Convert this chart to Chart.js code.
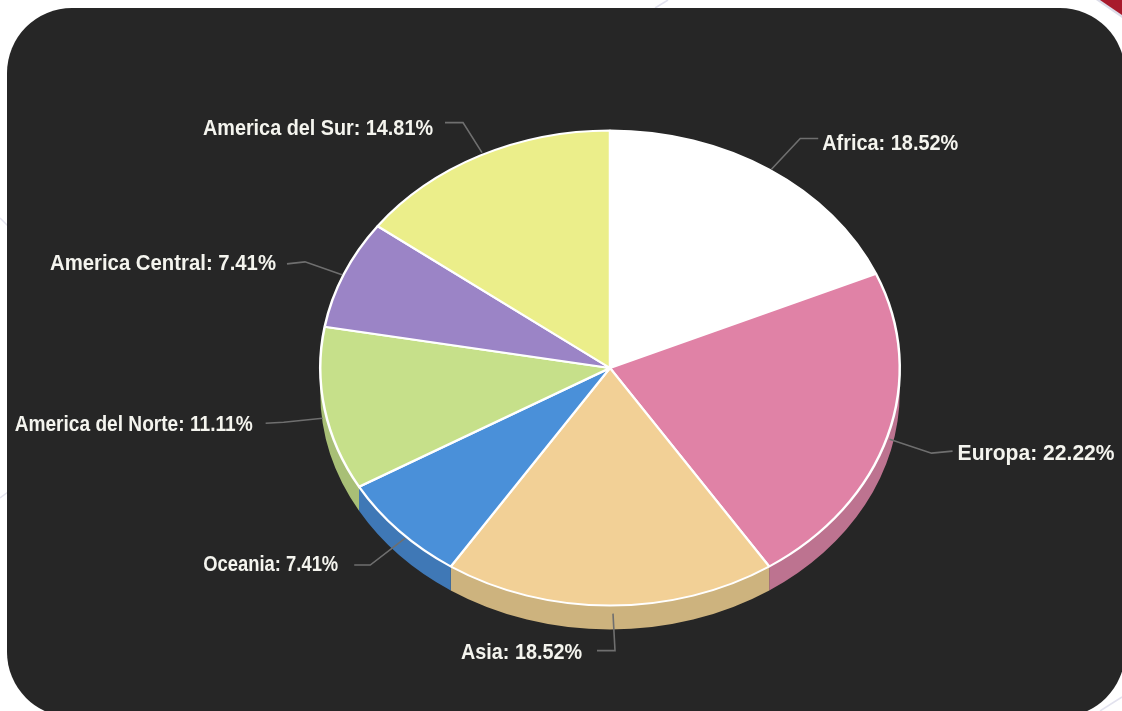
<!DOCTYPE html>
<html><head><meta charset="utf-8">
<style>html,body{margin:0;padding:0;background:#fff;overflow:hidden}#wrap{width:1122px;height:711px;position:relative}</style>
<script src="https://cdn.jsdelivr.net/npm/chart.js@4"></script>
</head><body><div id="wrap"><canvas id="c" width="1122" height="711"></canvas></div>
<script>
const categories = ['Africa','Europa','Asia','Oceania','America del Norte','America Central','America del Sur'];
const percentages = [18.52,22.22,18.52,7.41,11.11,7.41,14.81];
const topColors  = ['#ffffff','#e082a6','#f2d096','#4a90d9','#c6e08a','#9b84c6','#ebee8a'];
const sideColors = ['#d0d0d0','#bd7390','#cdb37e','#3f78b6','#a8bf76','#8470a8','#c8ca76'];

/* Connector layout: start nudge from the slice's rim point, then elbow and end relative to the rim point */
const connectorStart = [[2,0],[2,3],[3,8],[6,7],[-2,9],[-2,1],[2,-3]];
const connectorOffsets = [[31,-31,49,-31],[44,17,65,15],[5,45,-13,45],[-29,34,-45,34],[-41,13,-59,14],[-39,-12,-57,-10],[-17,-33,-35,-33]];
const labelGap = [4,5,15,16,13,11,12];
const labelWidths = [136,157,121,135,238,226,230];
const labelY = [144,454,653,565,425,264,129];

const SQUASH = 0.82, DEPTH = 24;

const stagePlugin = {
  id:'stage',
  beforeDraw(chart){
    const c = chart.ctx;
    c.save();
    c.fillStyle='#ffffff'; c.fillRect(0,0,1122,711);
    c.strokeStyle='#e2e2ee'; c.lineWidth=1.5;
    [[0,218,8,226],[0,498,8,492],[655,8,668,0],[1100,711,1122,697]].forEach(l=>{c.beginPath();c.moveTo(l[0],l[1]);c.lineTo(l[2],l[3]);c.stroke();});
    c.fillStyle='#dcdce8'; c.beginPath(); c.moveTo(1096,0); c.lineTo(1122,0); c.lineTo(1122,18); c.closePath(); c.fill();
    c.fillStyle='#a81a2c'; c.beginPath(); c.moveTo(1100,0); c.lineTo(1122,0); c.lineTo(1122,15); c.closePath(); c.fill();
    c.fillStyle='#262626'; c.beginPath(); c.roundRect(7,8,1118,709,65); c.fill();
    c.restore();
  },
  beforeDatasetsDraw(chart){
    const c = chart.ctx, arcs = chart.getDatasetMeta(0).data;
    const cy = arcs[0].y;
    c.save();
    c.translate(0,cy); c.scale(1,SQUASH); c.translate(0,-cy);
    arcs.forEach((a,i)=>{
      const p = a.getProps(['x','y','startAngle','endAngle','outerRadius'],true);
      const s = Math.max(p.startAngle,0), e = Math.min(p.endAngle,Math.PI);
      if (e<=s) return;
      const d = DEPTH/SQUASH;
      c.beginPath();
      c.arc(p.x,p.y,p.outerRadius,s,e,false);
      c.arc(p.x,p.y+d,p.outerRadius,e,s,true);
      c.closePath();
      c.fillStyle = sideColors[i]; c.fill();
    });
  },
  afterDatasetsDraw(chart){
    const c = chart.ctx, arcs = chart.getDatasetMeta(0).data;
    c.restore();
    c.save();
    arcs.forEach((a,i)=>{
      const p = a.getProps(['x','y','startAngle','endAngle','outerRadius'],true);
      const m = (p.startAngle+p.endAngle)/2;
      const rx = p.x+Math.cos(m)*p.outerRadius, ry = p.y+Math.sin(m)*p.outerRadius*SQUASH;
      const o = connectorOffsets[i], st = connectorStart[i];
      c.strokeStyle='#6f6f6f'; c.lineWidth=1.6; c.beginPath();
      c.moveTo(rx+st[0],ry+st[1]); c.lineTo(rx+o[0],ry+o[1]); c.lineTo(rx+o[2],ry+o[3]); c.stroke();
      const text = categories[i]+': '+percentages[i].toFixed(2)+'%';
      const right = o[2]>0;
      c.font='bold 22px "Liberation Sans",sans-serif';
      c.fillStyle='#f4f4ee'; c.textBaseline='middle';
      c.textAlign = right?'left':'right';
      const x = rx+o[2]+(right?labelGap[i]:-labelGap[i]);
      c.fillText(text,x,labelY[i],labelWidths[i]);
    });
    c.restore();
  }
};

new Chart(document.getElementById('c'),{
  type:'pie',
  data:{labels:categories,datasets:[{data:percentages,backgroundColor:topColors,borderColor:'#ffffff',borderWidth:2.5,clip:false}]},
  options:{
    responsive:false,animation:false,
    layout:{padding:{left:319,right:221,top:77,bottom:52}},
    plugins:{legend:{display:false},tooltip:{enabled:false}}
  },
  plugins:[stagePlugin]
});
</script></body></html>
